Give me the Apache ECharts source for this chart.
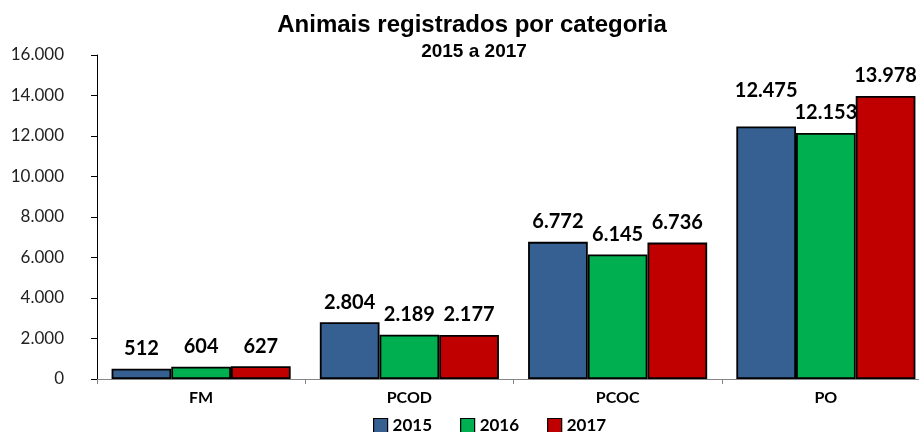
<!DOCTYPE html>
<html>
<head>
<meta charset="utf-8">
<script src="https://cdn.jsdelivr.net/npm/echarts@6/dist/echarts.min.js"></script>
<style>
  html, body { margin: 0; padding: 0; background: #fff; overflow: hidden; }
  /* the original plot runs past the right edge of the picture */
  #chart { width: 930px; height: 432px; }
</style>
</head>
<body>
<div id="chart"></div>
<script>
// data
var categories = ['FM', 'PCOD', 'PCOC', 'PO'];
var years = ['2015', '2016', '2017'];
var v2015 = [512, 2804, 6772, 12475];
var v2016 = [604, 2189, 6145, 12153];
var v2017 = [627, 2177, 6736, 13978];
var colors = ['#376092', '#00B050', '#C00000'];

var myChart = echarts.init(document.getElementById('chart'));

// 12.345 style
function fmt(v) {
	return String(Math.round(v)).replace(/\B(?=(\d{3})+(?!\d))/g, '.');
}

var seriesValues = [v2015, v2016, v2017];
var series = [];
for (var i = 0; i < years.length; i++) {
	var data = [];
	for (var j = 0; j < categories.length; j++) {
		var item = { value: seriesValues[i][j] };
		// 2015 label on PO sits higher in the original
		if (i === 0 && j === 3) {
			item.label = { distance: 26 };
		}
		data.push(item);
	}
	series.push({
		name: years[i],
		type: 'bar',
		barGap: '0%',
		barCategoryGap: '14%',
		itemStyle: {
			color: colors[i],
			borderColor: '#000',
			borderWidth: 1.8
		},
		label: {
			show: true,
			position: 'top',
			distance: 10,
			fontFamily: 'Lato',
			fontWeight: 'bold',
			fontSize: 20,
			color: '#000',
			formatter: function (p) { return fmt(p.value); }
		},
		data: data
	});
}

var option = {
	animation: false,
	title: [
		{
			text: 'Animais registrados por categoria',
			left: 472,
			textAlign: 'center',
			top: 13,
			padding: 0,
			textStyle: { fontFamily: 'Liberation Sans', fontWeight: 'bold', fontSize: 24, color: '#000' }
		},
		{
			text: '2015 a 2017',
			left: 474,
			textAlign: 'center',
			top: 42,
			padding: 0,
			textStyle: { fontFamily: 'Liberation Sans', fontWeight: 'bold', fontSize: 19, color: '#000' }
		}
	],
	legend: {
		data: years,
		left: 373,
		top: 417,
		padding: 0,
		itemWidth: 14,
		itemHeight: 14,
		itemGap: 28,
		icon: 'rect',
		itemStyle: { borderColor: '#000', borderWidth: 1.2 },
		textStyle: { fontFamily: 'Lato', fontWeight: 'bold', fontSize: 17, color: '#000' }
	},
	grid: {
		left: 97,
		right: 0,
		top: 55,
		bottom: 53,
		containLabel: false
	},
	xAxis: {
		type: 'category',
		data: categories,
		axisLine: { show: true, lineStyle: { color: '#868686', width: 1 } },
		axisTick: { show: true, length: 5, lineStyle: { color: '#868686' } },
		axisLabel: {
			margin: 11,
			fontFamily: 'Lato',
			fontWeight: 'bold',
			fontSize: 16,
			color: '#000'
		}
	},
	yAxis: {
		type: 'value',
		min: 0,
		max: 16000,
		interval: 2000,
		splitLine: { show: false },
		axisLine: { show: true, lineStyle: { color: '#000', width: 1 } },
		axisTick: { show: true, length: 6, lineStyle: { color: '#000' } },
		axisLabel: {
			margin: 33,
			fontFamily: 'Lato',
			fontSize: 17,
			color: '#222',
			formatter: function (v) { return fmt(v); }
		}
	},
	series: series
};

myChart.setOption(option, true);
</script>
</body>
</html>
